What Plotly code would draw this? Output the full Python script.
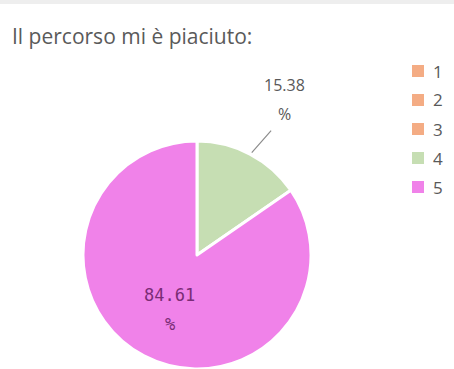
import math
import plotly.graph_objects as go

# Survey answers (1-5) and their share of responses, in percent
labels = ["1", "2", "3", "4", "5"]
shares = [0, 0, 0, 15.38, 84.61]
colors = ["#F4AC84", "#F4AC84", "#F4AC84", "#C6DEB3", "#F082E9"]
title_text = "Il percorso mi è piaciuto:"

W, H = 454, 369
cx, cy, r = 197, 256, 115  # pie centre and radius in pixels


def px_to_paper(x, y):
    return x / W, 1 - y / H


fig = go.Figure(
    go.Pie(
        labels=labels,
        values=shares,
        marker=dict(colors=colors, line=dict(color="white", width=3)),
        sort=False,
        direction="clockwise",
        rotation=0,
        textinfo="none",
        hoverinfo="label+percent",
        showlegend=False,
        domain=dict(x=[(cx - r) / W, (cx + r) / W], y=[0, (H - (cy - r)) / H]),
    )
)

# Percentage labels placed along each slice's mid-angle
total = sum(shares)
start = 0.0
for lab, v in zip(labels, shares):
    if v <= 0:
        continue
    frac = v / total
    mid = (start + frac / 2) * 2 * math.pi
    start += frac
    sx, sy = math.sin(mid), -math.cos(mid)
    num = f"{v:.2f}"
    if frac < 0.3:
        # small slice: label outside, joined by a leader line
        ex, ey = cx + r * sx, cy + r * sy            # point on the rim
        tx, ty = ex + 22, ey - 25                     # end of the leader
        x0, y0 = px_to_paper(ex, ey)
        fig.add_annotation(
            x=x0, y=y0, xref="paper", yref="paper", text="",
            showarrow=True, arrowhead=0, arrowwidth=1.2,
            arrowcolor="#8C8C8C", standoff=2,
            ax=tx - ex, ay=ty - ey,
        )
        lx = tx + 12
        for txt, ly in ((num, ty - 44), ("%", ty - 15)):
            ax_, ay_ = px_to_paper(lx, ly)
            fig.add_annotation(
                x=ax_, y=ay_, xref="paper", yref="paper", text=txt,
                showarrow=False, xanchor="center", yanchor="middle",
                font=dict(family="Open Sans", size=16, color="#595959"),
            )
    else:
        lx = cx + 0.72 * r * sx + 11
        ly = cy + 0.72 * r * sy - 34
        for txt, dy in ((num, 0), ("%", 29)):
            ax_, ay_ = px_to_paper(lx, ly + dy)
            fig.add_annotation(
                x=ax_, y=ay_, xref="paper", yref="paper", text=txt,
                showarrow=False, xanchor="center", yanchor="middle",
                font=dict(family="DejaVu Sans Mono", size=17, color="#7A2C76"),
            )

# Legend: a coloured square and the answer value, one row per category
lg_x, lg_y, lg_step, sq = 412, 71, 29, 12
for i, (lab, col) in enumerate(zip(labels, colors)):
    yc = lg_y + i * lg_step
    fig.add_shape(type="rect", xref="paper", yref="paper",
                  x0=lg_x / W, x1=(lg_x + sq) / W,
                  y0=1 - (yc + sq / 2) / H, y1=1 - (yc - sq / 2) / H,
                  fillcolor=col, line=dict(width=0))
    lx_, ly_ = px_to_paper(lg_x + sq + 7, yc)
    fig.add_annotation(x=lx_, y=ly_, xref="paper", yref="paper",
                       text=lab, showarrow=False,
                       xanchor="left", yanchor="middle",
                       font=dict(family="Open Sans", size=17, color="#595959"))

# Title
tx0, ty0 = px_to_paper(10, 36)
fig.add_annotation(
    x=tx0, y=ty0, xref="paper", yref="paper",
    xanchor="left", yanchor="middle", showarrow=False,
    text=title_text,
    font=dict(family="Open Sans", size=21, color="#5A5A5A"),
)

# Thin grey band along the top edge
fig.add_shape(type="rect", xref="paper", yref="paper",
              x0=0, x1=1, y0=1 - 4 / H, y1=1,
              fillcolor="#EEEEEE", line=dict(width=0))

fig.update_layout(
    width=W, height=H,
    margin=dict(l=0, r=0, t=0, b=0),
    paper_bgcolor="white", plot_bgcolor="white",
)

fig.write_html("out.html")
